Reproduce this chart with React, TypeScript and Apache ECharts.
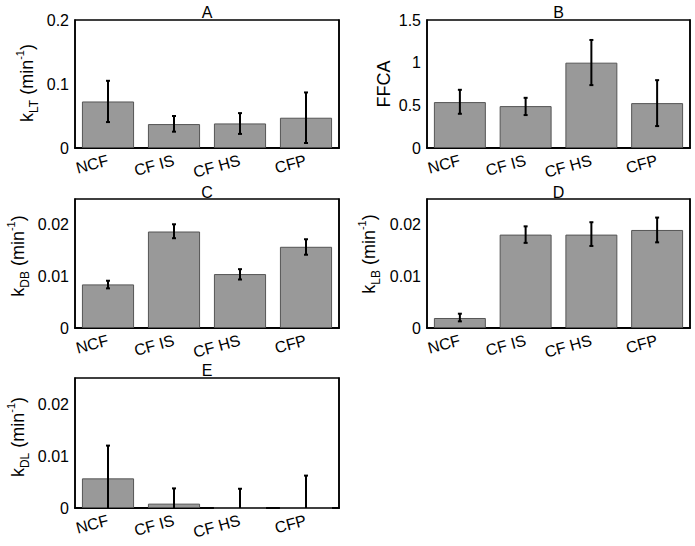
import React, { useEffect, useRef } from 'react';
import * as echarts from 'echarts';

const categories = ['NCF', 'CF IS', 'CF HS', 'CFP'];

const kLT = [0.0727, 0.0374, 0.0384, 0.0473];
const kLTLow = [0.0405, 0.0255, 0.022, 0.0078];
const kLTHigh = [0.105, 0.05, 0.0545, 0.0868];

const ffca = [0.538, 0.491, 1.0, 0.526];
const ffcaLow = [0.401, 0.386, 0.737, 0.257];
const ffcaHigh = [0.682, 0.588, 1.266, 0.795];

const kDB = [0.00845, 0.0187, 0.01045, 0.01574];
const kDBLow = [0.00768, 0.0174, 0.0094, 0.0142];
const kDBHigh = [0.00916, 0.0201, 0.0114, 0.0172];

const kLB = [0.00194, 0.0181, 0.0181, 0.019];
const kLBLow = [0.00129, 0.0165, 0.0159, 0.0166];
const kLBHigh = [0.00277, 0.0197, 0.0205, 0.0214];

const kDL = [0.0057, 0.00084, 0, 0];
const kDLLow = [0, 0, 0, 0];
const kDLHigh = [0.012, 0.00377, 0.0037, 0.00623];

const FONT = "'Liberation Sans', Arial, Helvetica, sans-serif";

const panels = [
  { title: 'A', yName: '{n|k}{s|LT}{n| (min}{p|-1}{n|)}', values: kLT, low: kLTLow, high: kLTHigh, min: 0, max: 0.2, interval: 0.1, rect: { left: 75, top: 20, width: 264, height: 128 }, nameX: 27, nameY: 83, titleY: 12 },
  { title: 'B', yName: '{n|FFCA}', values: ffca, low: ffcaLow, high: ffcaHigh, min: 0, max: 1.5, interval: 0.5, rect: { left: 427, top: 20, width: 263, height: 128 }, nameX: 384, nameY: 84, titleY: 12 },
  { title: 'C', yName: '{n|k}{s|DB}{n| (min}{p|-1}{n|)}', values: kDB, low: kDBLow, high: kDBHigh, min: 0, max: 0.025, interval: 0.01, rect: { left: 75, top: 199, width: 264, height: 129 }, nameX: 18, nameY: 256, titleY: 192 },
  { title: 'D', yName: '{n|k}{s|LB}{n| (min}{p|-1}{n|)}', values: kLB, low: kLBLow, high: kLBHigh, min: 0, max: 0.025, interval: 0.01, rect: { left: 427, top: 199, width: 263, height: 129 }, nameX: 369, nameY: 254, titleY: 192 },
  { title: 'E', yName: '{n|k}{s|DL}{n| (min}{p|-1}{n|)}', values: kDL, low: kDLLow, high: kDLHigh, min: 0, max: 0.025, interval: 0.01, rect: { left: 75, top: 378, width: 264, height: 130 }, nameX: 18, nameY: 437, titleY: 370 },
];

export default function App() {
  const ref = useRef<HTMLDivElement>(null);
  useEffect(() => {
    if (!ref.current) return;
    const chart = echarts.init(ref.current, null, { renderer: 'svg' });
    const grid: any[] = [];
    const xAxis: any[] = [];
    const yAxis: any[] = [];
    const series: any[] = [];
    const graphic: any[] = [];
    const tick = { inside: true, length: 4, lineStyle: { color: '#000', width: 1 } };
    const line = { show: true, lineStyle: { color: '#000', width: 1.5 } };
    panels.forEach((p, i) => {
      grid.push({ ...p.rect, show: true, borderColor: '#000', borderWidth: 1.5, backgroundColor: 'transparent' });
      xAxis.push({
        gridIndex: i, type: 'category', data: categories, position: 'bottom',
        axisLine: line, axisTick: { ...tick, alignWithLabel: true },
        axisLabel: { rotate: 15, color: '#000', fontSize: 16, fontFamily: FONT, margin: 12 },
      });
      xAxis.push({
        gridIndex: i, type: 'category', data: categories, position: 'top',
        axisLine: line, axisTick: { ...tick, alignWithLabel: true }, axisLabel: { show: false },
      });
      const fmt = (v: number) => (Math.abs(v - p.max) < 1e-9 && p.max === 0.025 ? '' : String(Number(v.toFixed(4))));
      yAxis.push({
        gridIndex: i, type: 'value', min: p.min, max: p.max, interval: p.interval, position: 'left',
        axisLine: line, axisTick: tick, splitLine: { show: false },
        axisLabel: { color: '#000', fontSize: 16, fontFamily: FONT, margin: 6, formatter: fmt },
      });
      yAxis.push({
        gridIndex: i, type: 'value', min: p.min, max: p.max, interval: p.interval, position: 'right',
        axisLine: line, axisTick: tick, splitLine: { show: false }, axisLabel: { show: false },
      });
      series.push({
        type: 'bar', xAxisIndex: 2 * i, yAxisIndex: 2 * i, data: p.values, barWidth: '79%',
        itemStyle: { color: '#999999', borderColor: '#555555', borderWidth: 1 },
      });
      series.push({
        type: 'custom', xAxisIndex: 2 * i, yAxisIndex: 2 * i, z: 5,
        data: p.values.map((_, k) => [k, p.low[k], p.high[k]]),
        encode: { x: 0, y: [1, 2] },
        renderItem: (params: any, api: any) => {
          const x = api.value(0);
          const lo = api.value(1);
          const hi = api.value(2);
          const a = api.coord([x, hi]);
          const b = api.coord([x, lo]);
          const cap = 2;
          const st = { stroke: '#000', lineWidth: 2 };
          const children: any[] = [
            { type: 'line', shape: { x1: a[0], y1: a[1], x2: b[0], y2: b[1] }, style: st },
            { type: 'line', shape: { x1: a[0] - cap, y1: a[1], x2: a[0] + cap, y2: a[1] }, style: st },
          ];
          if (lo > 0) children.push({ type: 'line', shape: { x1: b[0] - cap, y1: b[1], x2: b[0] + cap, y2: b[1] }, style: st });
          return { type: 'group', children };
        },
      });
      graphic.push({
        type: 'text', x: p.rect.left + p.rect.width / 2, y: p.titleY,
        style: { text: p.title, fill: '#000', fontSize: 16, fontFamily: FONT, textAlign: 'center', textVerticalAlign: 'middle' },
      });
      graphic.push({
        type: 'text', x: p.nameX, y: p.nameY, rotation: Math.PI / 2,
        style: {
          text: p.yName, fill: '#000', fontSize: 18, fontFamily: FONT, textAlign: 'center', textVerticalAlign: 'middle',
          rich: {
            n: { fontSize: 18, fontFamily: FONT, fill: '#000', lineHeight: 26 },
            s: { fontSize: 12, fontFamily: FONT, fill: '#000', verticalAlign: 'bottom', lineHeight: 26 },
            p: { fontSize: 11, fontFamily: FONT, fill: '#000', verticalAlign: 'top', lineHeight: 26 },
          },
        },
      });
    });
    chart.setOption({
      animation: false,
      backgroundColor: '#fff',
      grid, xAxis, yAxis, series, graphic,
    });
    return () => chart.dispose();
  }, []);
  return <div ref={ref} style={{ position: 'absolute', left: 0, top: 0, width: 695, height: 546 }} />;
}
